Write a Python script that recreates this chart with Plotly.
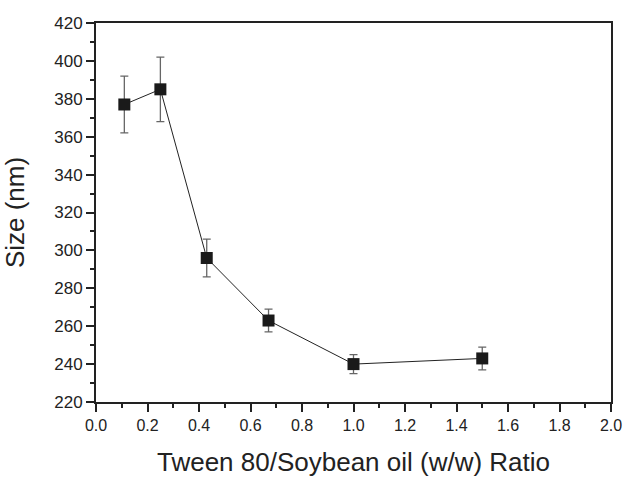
import plotly.graph_objects as go

ratio = [0.11, 0.25, 0.43, 0.67, 1.0, 1.5]
size_nm = [377, 385, 296, 263, 240, 243]
err_nm = [15, 17, 10, 6, 5, 6]

x_ticks = [0.0, 0.2, 0.4, 0.6, 0.8, 1.0, 1.2, 1.4, 1.6, 1.8, 2.0]
y_ticks = [220, 240, 260, 280, 300, 320, 340, 360, 380, 400, 420]

ink = "#222222"
font = "Liberation Sans, Arial, sans-serif"

fig = go.Figure()
fig.add_trace(go.Scatter(
    x=ratio, y=size_nm,
    mode="lines+markers",
    line=dict(color=ink, width=1),
    marker=dict(symbol="square", size=12, color="#1a1a1a"),
    error_y=dict(type="data", array=err_nm, visible=True,
                 color="#666666", thickness=1.3, width=4),
    showlegend=False,
))

axis_common = dict(
    showline=True, linecolor=ink, linewidth=2, mirror=True,
    showgrid=False, zeroline=False,
    ticks="outside", ticklen=8, tickwidth=2, tickcolor=ink,
)

fig.update_xaxes(
    range=[0, 2.0], tickvals=x_ticks, ticktext=[f"{v:.1f}" for v in x_ticks],
    tickfont=dict(family=font, size=16, color=ink),
    minor=dict(dtick=0.1, ticks="outside", ticklen=4, tickwidth=2, tickcolor=ink),
    title=dict(text="Tween 80/Soybean oil (w/w) Ratio",
               font=dict(family=font, size=26, color=ink), standoff=20),
    **axis_common,
)
fig.update_yaxes(
    range=[220, 420], tickvals=y_ticks, ticktext=[str(v) for v in y_ticks],
    tickfont=dict(family=font, size=17, color=ink),
    minor=dict(dtick=10, ticks="outside", ticklen=4, tickwidth=2, tickcolor=ink),
    title=dict(text="Size (nm)", font=dict(family=font, size=26, color=ink), standoff=24),
    **axis_common,
)

fig.update_layout(
    width=627, height=479,
    margin=dict(l=96, r=16, t=23, b=77, autoexpand=False),
    paper_bgcolor="white", plot_bgcolor="white",
)

fig.write_html(
    "out.html",
    config={"displayModeBar": False},
    post_script="document.body.style.margin='0';document.body.style.overflow='hidden';",
)
